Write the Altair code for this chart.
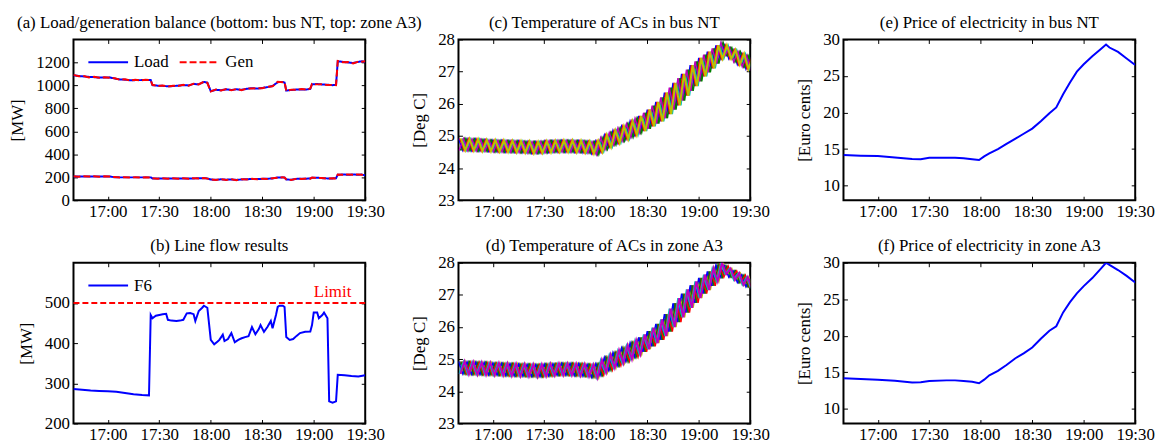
import altair as alt
import pandas as pd

FONT = "Liberation Serif"
FS = 17
W, H = 294, 162

# time in minutes of the day: 1000 = 16:40, 1170 = 19:30
T0, T1 = 1000, 1170
x_ticks = [1020, 1050, 1080, 1110, 1140, 1170]
LABEL_EXPR = "floor(datum.value / 60) + ':' + (datum.value % 60 < 10 ? '0' : '') + (datum.value % 60)"

# ---------------- (a) load / generation balance ----------------
a_time = [1000, 1003, 1006, 1009, 1012, 1015, 1018, 1021, 1024, 1027, 1030, 1033, 1036, 1039, 1042, 1045,
          1046, 1049, 1052, 1055, 1058, 1061, 1064, 1067, 1070, 1073, 1076, 1078,
          1080, 1083, 1086, 1089, 1092, 1095, 1098, 1101, 1104, 1107, 1110, 1113, 1116, 1119, 1122, 1123,
          1124, 1127, 1130, 1133, 1136, 1138,
          1139, 1142, 1145, 1148, 1151, 1153,
          1154, 1157, 1160, 1163, 1166, 1168, 1170]
a3_load = [1088, 1082, 1078, 1074, 1072, 1068, 1068, 1070, 1060, 1052, 1050, 1045, 1046, 1046, 1048, 1047,
           1002, 998, 996, 992, 994, 998, 1002, 1000, 1012, 1010, 1030, 1025,
           950, 962, 958, 966, 960, 966, 962, 970, 976, 972, 978, 985, 995, 1028, 1030, 1025,
           955, 960, 964, 965, 965, 970,
           1010, 1012, 1008, 1006, 1002, 1005,
           1210, 1205, 1200, 1195, 1205, 1210, 1205]
a3_gen = [1092, 1080, 1081, 1070, 1075, 1066, 1071, 1067, 1062, 1049, 1053, 1043, 1049, 1044, 1050, 1045,
          1005, 995, 999, 990, 997, 995, 1005, 997, 1015, 1008, 1033, 1022,
          947, 965, 955, 969, 957, 969, 959, 973, 973, 975, 975, 988, 992, 1031, 1027, 1028,
          952, 963, 961, 968, 962, 973,
          1013, 1009, 1011, 1003, 1005, 1002,
          1213, 1202, 1203, 1192, 1208, 1207, 1210]
nt_load = [207, 207, 207, 207, 207, 207, 207, 207, 200, 199, 199, 199, 199, 199, 199, 199,
           190, 190, 189, 190, 189, 190, 190, 189, 190, 191, 192, 190,
           180, 178, 182, 179, 181, 177, 181, 183, 185, 184, 186, 187, 190, 198, 199, 198,
           180, 179, 186, 187, 188, 190,
           195, 196, 192, 190, 190, 192,
           222, 224, 222, 224, 222, 224, 216]
nt_gen = [209, 205, 208, 206, 209, 205, 208, 206, 202, 197, 201, 198, 200, 197, 201, 198,
          192, 188, 191, 188, 191, 188, 192, 187, 192, 189, 194, 188,
          182, 176, 184, 177, 183, 175, 183, 181, 187, 182, 188, 185, 192, 196, 201, 196,
          182, 177, 188, 185, 190, 188,
          197, 194, 194, 188, 192, 190,
          224, 222, 224, 222, 224, 222, 218]

# ---------------- (b) line flow ----------------
b_time = [1000, 1005, 1010, 1015, 1020, 1025, 1030, 1035, 1040, 1044,
          1045, 1046, 1048, 1050, 1052, 1054, 1055, 1057, 1060, 1062, 1064, 1066, 1068, 1070, 1071, 1073, 1075, 1076, 1078,
          1080, 1082, 1084, 1085, 1087, 1088, 1090, 1092, 1094, 1096, 1098, 1100, 1102, 1104, 1106, 1108, 1109, 1111,
          1113, 1115, 1116, 1118, 1119, 1120, 1122, 1123,
          1124, 1126, 1128, 1130, 1132, 1135, 1138, 1139, 1140, 1142, 1143, 1145, 1146, 1148,
          1149, 1151, 1153, 1154, 1158, 1162, 1166, 1170]
f6_flow = [286, 284, 282, 281, 280, 279, 276, 273, 271, 270,
           470, 462, 468, 470, 472, 473, 458, 456, 455, 456, 458, 474, 475, 472, 455, 480, 488, 493, 488,
           408, 397, 404, 408, 421, 405, 410, 425, 402, 408, 412, 415, 417, 440, 422, 435, 445, 428,
           440, 455, 437, 470, 490, 493, 493, 490,
           415, 408, 410, 418, 425, 428, 429, 445, 476, 476, 462, 470, 476, 462,
           255, 252, 255, 321, 320, 318, 317, 320]
flow_limit = [500]
limit_label_t = [1151]

# ---------------- (c), (d) AC temperature band (edges of the band) ----------------
ac_time = [T0 + 2.5 * i for i in range(69)]
c_upper = [24.92, 24.92, 24.91, 24.9, 24.9, 24.89, 24.88, 24.87, 24.87, 24.86, 24.86, 24.85, 24.85, 24.84, 24.84,
           24.83, 24.83, 24.82, 24.82, 24.83, 24.84, 24.85, 24.85, 24.86, 24.86, 24.86, 24.86, 24.85, 24.85,
           24.84, 24.83, 24.82, 24.85,
           24.95, 25.03, 25.1, 25.17, 25.24, 25.3, 25.38, 25.46, 25.54, 25.62, 25.72, 25.82, 25.94, 26.06,
           26.2, 26.35, 26.5, 26.65, 26.8, 26.93, 27.06, 27.2, 27.32, 27.43, 27.53, 27.62, 27.72, 27.82,
           27.9, 27.82, 27.75, 27.68, 27.62, 27.56, 27.5, 27.45]
c_lower = [24.55, 24.55, 24.54, 24.54, 24.53, 24.53, 24.52, 24.52, 24.51, 24.51, 24.5, 24.5, 24.49, 24.49, 24.48,
           24.48, 24.47, 24.46, 24.46, 24.47, 24.48, 24.49, 24.5, 24.5, 24.5, 24.5, 24.5, 24.49, 24.49,
           24.48, 24.47, 24.45, 24.42,
           24.5, 24.58, 24.65, 24.72, 24.78, 24.84, 24.9, 24.96, 25.03, 25.1, 25.15, 25.22, 25.3, 25.38,
           25.45, 25.55, 25.68, 25.82, 25.95, 26.1, 26.25, 26.4, 26.55, 26.7, 26.85, 26.98, 27.1, 27.25,
           27.4, 27.5, 27.4, 27.3, 27.22, 27.15, 27.08, 27.03]
d_upper = [24.93, 24.93, 24.92, 24.92, 24.91, 24.9, 24.9, 24.89, 24.88, 24.88, 24.87, 24.87, 24.86, 24.86, 24.85,
           24.85, 24.84, 24.84, 24.83, 24.84, 24.85, 24.86, 24.86, 24.87, 24.87, 24.87, 24.87, 24.86, 24.86,
           24.85, 24.84, 24.83, 24.86,
           24.98, 25.06, 25.14, 25.21, 25.28, 25.35, 25.43, 25.51, 25.59, 25.68, 25.77, 25.87, 25.98, 26.1,
           26.24, 26.4, 26.57, 26.74, 26.9, 27.04, 27.17, 27.3, 27.42, 27.53, 27.63, 27.73, 27.83, 27.93,
           28.0, 27.9, 27.82, 27.75, 27.68, 27.62, 27.56, 27.5]
d_lower = [24.54, 24.54, 24.53, 24.53, 24.52, 24.52, 24.51, 24.51, 24.5, 24.5, 24.49, 24.49, 24.48, 24.48, 24.47,
           24.47, 24.46, 24.46, 24.45, 24.46, 24.47, 24.48, 24.49, 24.5, 24.5, 24.5, 24.5, 24.49, 24.48,
           24.47, 24.46, 24.44, 24.42,
           24.5, 24.58, 24.66, 24.73, 24.8, 24.87, 24.93, 25.0, 25.07, 25.15, 25.23, 25.31, 25.4, 25.5,
           25.6, 25.72, 25.86, 26.0, 26.15, 26.3, 26.45, 26.6, 26.75, 26.9, 27.04, 27.15, 27.28, 27.42,
           27.55, 27.65, 27.55, 27.46, 27.38, 27.31, 27.25, 27.2]
# one AC unit per colour (MATLAB default colour order), each with its own cycle phase (0..6)
c_colors = ["#404040", "#0000ff", "#008000", "#ff0000", "#00bfbf", "#bf00bf", "#bfbf00"]
c_phase = [3, 0, 5, 2, 6, 1, 4]
d_colors = ["#404040", "#bfbf00", "#0000ff", "#008000", "#ff0000", "#00bfbf", "#bf00bf"]
d_phase = [2, 5, 0, 4, 6, 1, 3]

# ---------------- (e), (f) prices ----------------
p_time = [1000, 1010, 1020, 1030, 1040, 1045, 1050, 1060, 1065, 1070, 1075, 1079, 1082, 1085, 1090, 1095,
          1100, 1105, 1110, 1115, 1120, 1124, 1128, 1132, 1136, 1140, 1145, 1150, 1153, 1155, 1160, 1165, 1170]
e_price = [14.2, 14.1, 14.05, 13.85, 13.65, 13.6, 13.8, 13.8, 13.8, 13.75, 13.6, 13.5, 14.0, 14.4, 15.0, 15.7,
           16.4, 17.1, 17.8, 18.8, 19.9, 20.7, 22.5, 24.1, 25.6, 26.6, 27.7, 28.7, 29.3, 28.9, 28.3, 27.4, 26.5]
f_price = [14.2, 14.1, 14.0, 13.85, 13.6, 13.65, 13.8, 13.9, 13.9, 13.8, 13.7, 13.5, 14.0, 14.6, 15.2, 16.0,
           16.9, 17.6, 18.4, 19.6, 20.7, 21.3, 23.2, 24.6, 25.8, 26.8, 27.9, 29.2, 30.0, 29.7, 29.0, 28.2, 27.3]

VIEW = alt.ViewBackground(stroke="black", strokeWidth=2, fill="white")


def xs():
    return alt.Scale(domain=[T0, T1], nice=False, zero=False)


def ys(d):
    return alt.Scale(domain=d, nice=False, zero=False)


def axis(orient, values, labels=True, title=None, is_x=False):
    kw = dict(orient=orient, values=values, labels=labels, domain=False, grid=False, ticks=True,
              tickSize=4, offset=-4, tickColor="black", tickWidth=1,
              labelFont=FONT, labelFontSize=FS, labelColor="black", labelOverlap=False,
              titleFont=FONT, titleFontSize=FS, titleFontWeight="normal", titleColor="black", title=title)
    if is_x:
        kw.update(labelFlush=False, labelPadding=3, labelExpr=LABEL_EXPR)
    else:
        kw.update(labelPadding=4, titlePadding=9, format="d")
    return alt.Axis(**kw)


def panel(data_layers, frame_df, ydom, yticks, ytitle, title):
    frame = alt.Chart(frame_df).mark_line(opacity=0).encode(
        x=alt.X("t:Q", scale=xs(), axis=axis("top", x_ticks, labels=False, is_x=True)),
        y=alt.Y("v:Q", scale=ys(ydom), axis=axis("right", yticks, labels=False)),
    )
    axes_layer = alt.Chart(frame_df).mark_line(opacity=0).encode(
        x=alt.X("t:Q", scale=xs(), axis=axis("bottom", x_ticks, is_x=True)),
        y=alt.Y("v:Q", scale=ys(ydom), axis=axis("left", yticks, title=ytitle)),
    )
    head = alt.Chart(pd.DataFrame({"label": [title]})).mark_text(
        font=FONT, fontSize=FS, color="black", baseline="alphabetic", align="center"
    ).encode(text="label:N", x=alt.value(W / 2), y=alt.value(-12))
    return alt.layer(axes_layer, *data_layers, frame, head).resolve_axis(
        x="independent", y="independent"
    ).properties(width=W, height=H, view=VIEW)


def leg():
    return alt.Legend(orient="none", legendX=14, legendY=2, direction="horizontal", title=None,
                      symbolType="stroke", symbolSize=1600, symbolStrokeWidth=2,
                      labelFont=FONT, labelFontSize=FS, labelColor="black", labelOffset=5,
                      labelFontWeight="normal", columnPadding=7, padding=0)


X = lambda: alt.X("t:Q", scale=xs(), axis=None)

# ---- panel a
rows = []
for t, l3, g3, ln, gn in zip(a_time, a3_load, a3_gen, nt_load, nt_gen):
    rows += [{"t": t, "v": l3, "series": "Load", "zone": "A3"},
             {"t": t, "v": g3, "series": "Gen", "zone": "A3"},
             {"t": t, "v": ln, "series": "Load", "zone": "NT"},
             {"t": t, "v": gn, "series": "Gen", "zone": "NT"}]
df_a = pd.DataFrame(rows)
a_dom = [0, 1400]
a_layers = []
for s in ["Load", "Gen"]:
    a_layers.append(
        alt.Chart(df_a[df_a.series == s]).mark_line(strokeWidth=2, clip=True).encode(
            x=X(), y=alt.Y("v:Q", scale=ys(a_dom), axis=None),
            color=alt.Color("series:N", scale=alt.Scale(domain=["Load", "Gen"], range=["#0000ff", "#ff0000"]),
                            legend=leg()),
            strokeDash=alt.StrokeDash("series:N", scale=alt.Scale(domain=["Load", "Gen"], range=[[1, 0], [7, 3]]),
                                      legend=leg()),
            detail="zone:N",
        )
    )
pa = panel(a_layers, df_a, a_dom, [0, 200, 400, 600, 800, 1000, 1200], "[MW]",
           "(a) Load/generation balance (bottom: bus NT, top: zone A3)")

# ---- panel b
df_b = pd.DataFrame({"t": b_time, "v": f6_flow, "flow": "F6"})
b_dom = [200, 600]
df_lim = pd.DataFrame({"v": flow_limit})
df_lim_lab = pd.DataFrame({"t": limit_label_t, "v": flow_limit, "label": ["Limit"]})
b_layers = [
    alt.Chart(df_lim).mark_rule(color="#ff0000", strokeWidth=2, strokeDash=[6, 3]).encode(
        y=alt.Y("v:Q", scale=ys(b_dom), axis=None)),
    alt.Chart(df_lim_lab).mark_text(color="#ff0000", font=FONT, fontSize=FS, dy=-6, baseline="alphabetic",
                                    align="center").encode(
        x=X(), y=alt.Y("v:Q", scale=ys(b_dom), axis=None), text="label:N"),
    alt.Chart(df_b).mark_line(strokeWidth=2, clip=True).encode(
        x=X(), y=alt.Y("v:Q", scale=ys(b_dom), axis=None),
        stroke=alt.Stroke("flow:N", scale=alt.Scale(domain=["F6"], range=["#0000ff"]), legend=leg())),
]
pb = panel(b_layers, df_b, b_dom, [200, 300, 400, 500], "[MW]", "(b) Line flow results")


# ---- panels c, d
def ac_layers(upper, lower, colors, phases, dom):
    layers = []
    n = len(colors)
    for k, (col, ph) in enumerate(zip(colors, phases)):
        rows = []
        for i, t in enumerate(ac_time):
            rows.append({"t": t + ph * 2.5 / n, "v": upper[i] if (i + ph) % 2 == 0 else lower[i]})
        sw = 2.0 if k == n - 1 else 1.4
        layers.append(alt.Chart(pd.DataFrame(rows)).mark_line(strokeWidth=sw, clip=True, color=col).encode(
            x=X(), y=alt.Y("v:Q", scale=ys(dom), axis=None)))
    return layers


c_dom = [23, 28]
df_c = pd.DataFrame({"t": ac_time, "v": c_upper})
pc = panel(ac_layers(c_upper, c_lower, c_colors, c_phase, c_dom), df_c, c_dom, [23, 24, 25, 26, 27, 28],
           "[Deg C]", "(c) Temperature of ACs in bus NT")
df_d = pd.DataFrame({"t": ac_time, "v": d_upper})
pd_ = panel(ac_layers(d_upper, d_lower, d_colors, d_phase, c_dom), df_d, c_dom, [23, 24, 25, 26, 27, 28],
            "[Deg C]", "(d) Temperature of ACs in zone A3")

# ---- panels e, f
p_dom = [8, 30]
df_e = pd.DataFrame({"t": p_time, "v": e_price})
df_f = pd.DataFrame({"t": p_time, "v": f_price})


def price_layer(df):
    return alt.Chart(df).mark_line(strokeWidth=2, color="#0000ff", clip=True).encode(
        x=X(), y=alt.Y("v:Q", scale=ys(p_dom), axis=None))


pe = panel([price_layer(df_e)], df_e, p_dom, [10, 15, 20, 25, 30], "[Euro cents]",
           "(e) Price of electricity in bus NT")
pf = panel([price_layer(df_f)], df_f, p_dom, [10, 15, 20, 25, 30], "[Euro cents]",
           "(f) Price of electricity in zone A3")

chart = alt.concat(pa, pc, pe, pb, pd_, pf, columns=3, spacing={"row": 63, "column": 94},
                   bounds="flush").resolve_scale(
    color="independent", strokeDash="independent", stroke="independent"
).resolve_legend(
    color="independent", strokeDash="independent", stroke="independent"
).properties(
    padding={"left": 0, "top": 3, "right": 5, "bottom": 5}
).configure_view(stroke="black", strokeWidth=2).configure_axis(
    labelFont=FONT, titleFont=FONT
).configure_legend(labelFont=FONT).configure(font=FONT, background="white")

chart.save("out.html", embed_options={"renderer": "svg", "actions": False})
